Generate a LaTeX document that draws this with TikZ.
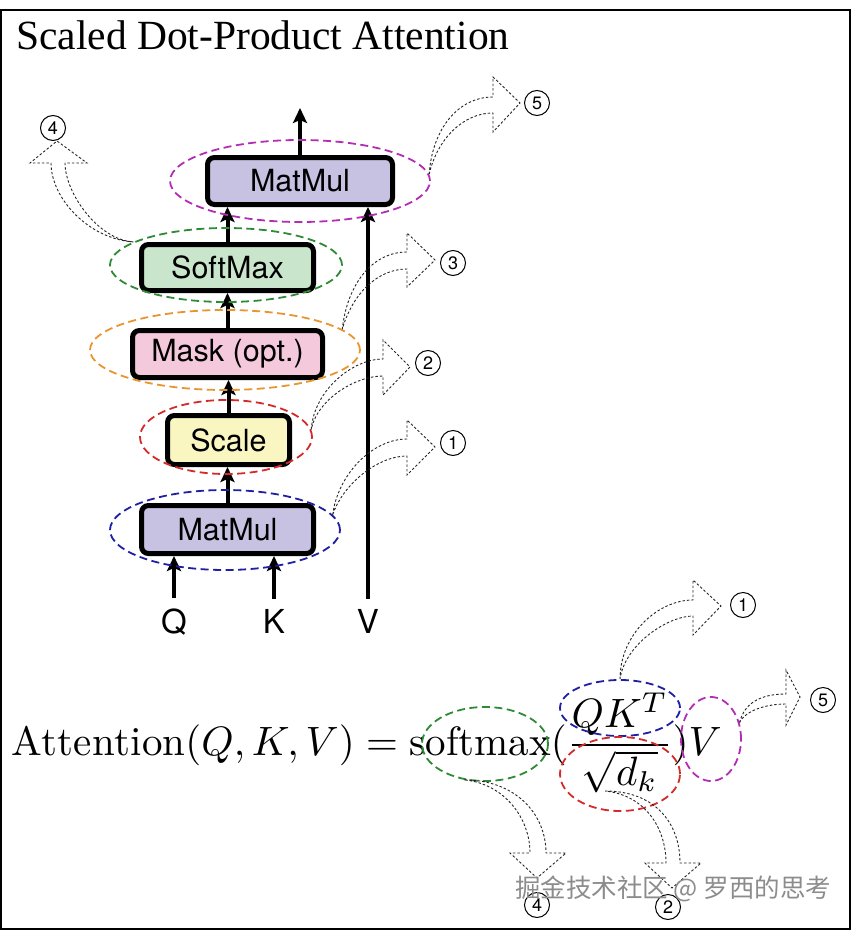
\documentclass[tikz,border=0pt]{standalone}
\usepackage{graphicx}
\usepackage{fontspec}
\newfontfamily\titlefont{Liberation Serif}
\newfontfamily\boxfont{TeX Gyre Heros}
\newfontfamily\cjkfont{Noto Sans CJK SC}
\usetikzlibrary{arrows.meta,calc,positioning,shapes.geometric}
\definecolor{matmulfill}{HTML}{C7C1E2}
\definecolor{softfill}{HTML}{C9E6CC}
\definecolor{maskfill}{HTML}{F5C9DC}
\definecolor{scalefill}{HTML}{FAF6C1}
\definecolor{ringmag}{HTML}{B22CB4}
\definecolor{ringgreen}{HTML}{2E8B34}
\definecolor{ringorange}{HTML}{E8952E}
\definecolor{ringred}{HTML}{D42A2A}
\definecolor{ringblue}{HTML}{1F1FA6}
\tikzset{
  op/.style={
    rectangle,
    rounded corners=7pt,
    draw=black,
    line width=5pt,
    minimum height=47pt,
    inner sep=0pt,
    font=\boxfont\fontsize{30.5}{36}\selectfont
  },
  inlabel/.style={
    inner sep=10pt,
    anchor=base,
    font=\boxfont\fontsize{33}{38}\selectfont
  },
  flow/.style={
    line width=4pt,
    -{Stealth[length=15pt,width=14pt,inset=3pt]}
  },
  ring/.style={
    ellipse,
    line width=1.8pt,
    dash pattern=on 8pt off 4.5pt,
    inner sep=0pt
  },
  callout/.style={
    draw=black!85,
    line width=0.9pt,
    dash pattern=on 2.5pt off 2pt
  },
  numc/.style={
    circle,
    draw=black,
    line width=1pt,
    minimum size=25pt,
    inner sep=0pt,
    font=\boxfont\fontsize{18}{20}\selectfont
  },
  titletext/.style={
    inner sep=0pt,
    anchor=base west,
    font=\titlefont\fontsize{41.5}{48}\selectfont
  },
  formula/.style={
    inner sep=0pt,
    anchor=base west
  },
  wmark/.style={
    anchor=west,
    inner sep=0pt,
    text=black!45,
    font=\cjkfont\fontsize{25.5}{30}\selectfont
  }
}

\begin{document}
\begin{tikzpicture}[x=1pt,y=-1pt]
  \useasboundingbox (0,0) rectangle (851,931);
  \draw[line width=1.5pt] (1,10) rectangle (850,929);

  \node[titletext] (title) at (16,50) {Scaled Dot-Product Attention};

  % ------------------------------------------------------------------
  % attention block
  % ------------------------------------------------------------------
  \node[op, fill=matmulfill, minimum width=185pt] (mmTop) at (300,181) {MatMul};
  \node[op, fill=softfill, minimum width=172pt, minimum height=46pt] (soft) at (227.5,267.5) {SoftMax};
  \node[op, fill=maskfill, minimum width=190pt] (mask) at (227.5,354) {Mask (opt.)};
  \node[op, fill=scalefill, minimum width=122pt, minimum height=49pt] (scale) at (228.5,440) {Scale};
  \node[op, fill=matmulfill, minimum width=172pt, minimum height=48pt] (mmBot) at (227.5,529.5) {MatMul};

  \node[inlabel] (Q) at (174,633) {Q};
  \node[inlabel] (K) at (274,633) {K};
  \node[inlabel] (V) at (368,633) {V};
  \coordinate (outTip) at (300,108);

  \draw[flow] (Q.north) -- (Q.north |- mmBot.south);
  \draw[flow] (K.north) -- (K.north |- mmBot.south);
  \draw[flow] (V.north) -- (V.north |- mmTop.south);
  \draw[flow] (mmBot.north) -- (mmBot.north |- scale.south);
  \draw[flow] (scale.north) -- (scale.north |- mask.south);
  \draw[flow] (mask.north) -- (mask.north |- soft.south);
  \draw[flow] (soft.north) -- (soft.north |- mmTop.south);
  \draw[flow] (mmTop.north) -- (outTip);

  % highlight rings
  \node[ring, draw=ringmag, minimum width=260pt, minimum height=82pt] (eTop) at (300,181) {};
  \node[ring, draw=ringgreen, minimum width=232pt, minimum height=74pt] (eSoft) at (226,265) {};
  \node[ring, draw=ringorange, minimum width=270pt, minimum height=80pt] (eMask) at (225,350) {};
  \node[ring, draw=ringred, minimum width=172pt, minimum height=74pt] (eScale) at (226,437) {};
  \node[ring, draw=ringblue, minimum width=230pt, minimum height=80pt] (eMat) at (225,530) {};

  % numbered callouts
  \node[numc] (n1) at (453,443) {1};
  \node[numc] (n2) at (428,363) {2};
  \node[numc] (n3) at (453,263) {3};
  \node[numc] (n4) at (53,128) {4};
  \node[numc] (n5) at (537,103) {5};
  \coordinate (t1) at (435,447);
  \coordinate (t2) at (410,367);
  \coordinate (t3) at (435,260);
  \coordinate (t4) at (57,141);
  \coordinate (t5) at (520,103);

  \draw[callout] (eMat.8) .. controls +(5,-40) and +(-35,0) .. (407,439)
    -- (407,420) -- (t1) -- (407,475) -- (407,456)
    .. controls +(-30,0) and +(10,-30) .. (eMat.8);
  \draw[callout] (eScale.5) .. controls +(3,-40) and +(-30,0) .. (383,359)
    -- (383,340) -- (t2) -- (383,395) -- (383,376)
    .. controls +(-28,0) and +(6,-30) .. (eScale.5);
  \draw[callout] (eMask.10) .. controls +(5,-45) and +(-35,0) .. (407,252)
    -- (407,233) -- (t3) -- (407,287) -- (407,269)
    .. controls +(-30,0) and +(10,-35) .. (eMask.10);
  \draw[callout] (eTop.3) .. controls +(3,-45) and +(-35,0) .. (493,97)
    -- (493,77) -- (t5) -- (493,132) -- (493,113)
    .. controls +(-30,0) and +(8,-35) .. (eTop.3);
  \draw[callout] (eSoft.166) .. controls +(-45,-3) and +(0,35) .. (51,163)
    -- (30,163) -- (t4) -- (87,163) -- (65,163)
    .. controls +(0,30) and +(-35,-2) .. (eSoft.166);

  % ------------------------------------------------------------------
  % formula
  % ------------------------------------------------------------------
  \node[formula] (attn) at (11,755)
    {\scalebox{4.1}{$\displaystyle \mathrm{Attention}(Q,K,V)=\mathrm{softmax}(\frac{QK^T}{\sqrt{d_k}})V$}};

  \node[ring, draw=ringgreen, minimum width=126pt, minimum height=74pt] (fSoft) at (485,744) {};
  \node[ring, draw=ringblue, minimum width=120pt, minimum height=56pt] (fNum) at (620,708) {};
  \node[ring, draw=ringred, minimum width=120pt, minimum height=74pt] (fDen) at (620,774) {};
  \node[ring, draw=ringmag, minimum width=60pt, minimum height=84pt] (fV) at (711,739) {};

  \node[numc] (m1) at (743,605) {1};
  \node[numc] (m5) at (823,700) {5};
  \node[numc] (m4) at (537,905) {4};
  \node[numc] (m2) at (668,907) {2};
  \coordinate (u1) at (721,606);
  \coordinate (u5) at (800,697);
  \coordinate (u4) at (537,878);
  \coordinate (u2) at (672,888);
  \coordinate (dStart) at ([shift={(-15,17)}]fDen.center);

  \draw[callout] (fNum.90) .. controls +(0,-45) and +(-35,0) .. (693,600)
    -- (693,580) -- (u1) -- (693,635) -- (693,616)
    .. controls +(-25,0) and +(5,-35) .. (fNum.90);
  \draw[callout] (fV.30) .. controls +(5,-20) and +(-25,0) .. (786,694)
    -- (786,670) -- (u5) -- (786,725) -- (786,704)
    .. controls +(-20,0) and +(6,-12) .. (fV.30);
  \draw[callout] (fSoft.240) .. controls +(50,0) and +(0,-40) .. (546,853)
    -- (566,853) -- (u4) -- (510,853) -- (530,853)
    .. controls +(0,-35) and +(40,4) .. (fSoft.240);
  \draw[callout] (dStart) .. controls +(50,0) and +(0,-40) .. (680,863)
    -- (701,863) -- (u2) -- (645,863) -- (666,863)
    .. controls +(0,-35) and +(40,4) .. (dStart);

  \node[wmark] (wm) at (515,889) {掘金技术社区 @ 罗西的思考};
\end{tikzpicture}
\end{document}
